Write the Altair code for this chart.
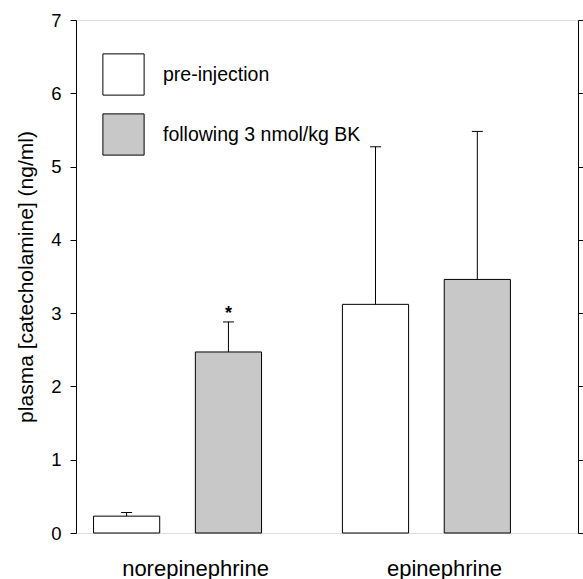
import altair as alt
import pandas as pd

analytes = ["norepinephrine", "norepinephrine", "epinephrine", "epinephrine"]
conditions = ["pre-injection", "following 3 nmol/kg BK", "pre-injection", "following 3 nmol/kg BK"]
means = [0.23, 2.47, 3.12, 3.46]
err_tops = [0.28, 2.88, 5.27, 5.48]
marks = ["", "*", "", ""]

analyte_order = ["norepinephrine", "epinephrine"]
cond_order = ["pre-injection", "following 3 nmol/kg BK"]
fills = ["white", "#c8c8c8"]
y_ticks = [0, 1, 2, 3, 4, 5, 6, 7]

df = pd.DataFrame({"analyte": analytes, "condition": conditions,
                   "mean": means, "top": err_tops, "mark": marks})

FONT = "Liberation Sans"

x_enc = alt.X("analyte:N", sort=analyte_order,
              scale=alt.Scale(paddingInner=0.325, paddingOuter=0.171, align=0.206),
              axis=alt.Axis(title=None, labelAngle=0, ticks=False, tickSize=0, domain=False,
                            labelFontSize=22, labelOffset=18, labelPadding=42,
                            labelBaseline="alphabetic", labelFont=FONT, labelColor="black"))
xo_enc = alt.XOffset("condition:N", sort=cond_order,
                     scale=alt.Scale(paddingInner=0.35, paddingOuter=0))
y_scale = alt.Scale(domain=[0, 7], nice=False)

bars = alt.Chart(df).mark_bar(stroke="black", strokeWidth=1, opacity=1).encode(
    x=x_enc,
    xOffset=xo_enc,
    y=alt.Y("mean:Q", scale=y_scale,
            axis=alt.Axis(title="plasma [catecholamine] (ng/ml)", values=y_ticks, grid=False,
                          tickSize=6, tickColor="black", domainColor="black",
                          labelFontSize=18.5, labelPadding=9, labelFont=FONT, labelColor="black",
                          titleFontSize=21, titleFontWeight="normal", titleFont=FONT,
                          titleColor="black", titlePadding=14)),
    color=alt.Color("condition:N", sort=cond_order,
                    scale=alt.Scale(domain=cond_order, range=fills),
                    legend=alt.Legend(orient="none", legendX=26, legendY=33, title=None,
                                      symbolType="square", symbolSize=1700,
                                      symbolStrokeColor="black", symbolStrokeWidth=1,
                                      symbolOpacity=1, labelFontSize=19.5, labelOffset=18,
                                      labelFont=FONT, labelColor="black", labelLimit=400,
                                      rowPadding=13, padding=0)),
)

rules = alt.Chart(df).mark_rule(color="black", strokeWidth=1).encode(
    x=x_enc,
    xOffset=xo_enc,
    y=alt.Y("mean:Q", scale=y_scale,
            axis=alt.Axis(orient="right", title=None, labels=False, values=y_ticks, grid=False,
                          tickSize=6, tickColor="black", domainColor="black")),
    y2="top:Q",
)

caps = alt.Chart(df).mark_tick(color="black", thickness=1, size=11, opacity=1).encode(
    x=x_enc,
    xOffset=xo_enc,
    y=alt.Y("top:Q", scale=y_scale, axis=None),
)

stars = alt.Chart(df).mark_text(fontSize=18, fontWeight="bold", font=FONT, color="black",
                                baseline="alphabetic", dy=-3).encode(
    x=x_enc,
    xOffset=xo_enc,
    y=alt.Y("top:Q", scale=y_scale, axis=None),
    text="mark:N",
)

chart = alt.layer(bars, rules, caps, stars).resolve_axis(y="independent").properties(
    width=502, height=513,
    autosize=alt.AutoSizeParams(type="none"),
    padding={"left": 76, "top": 20, "right": 5, "bottom": 46},
).configure_view(stroke="black", strokeWidth=1).configure(background="white")

chart.save("out.html", embed_options={"renderer": "svg", "actions": False})
